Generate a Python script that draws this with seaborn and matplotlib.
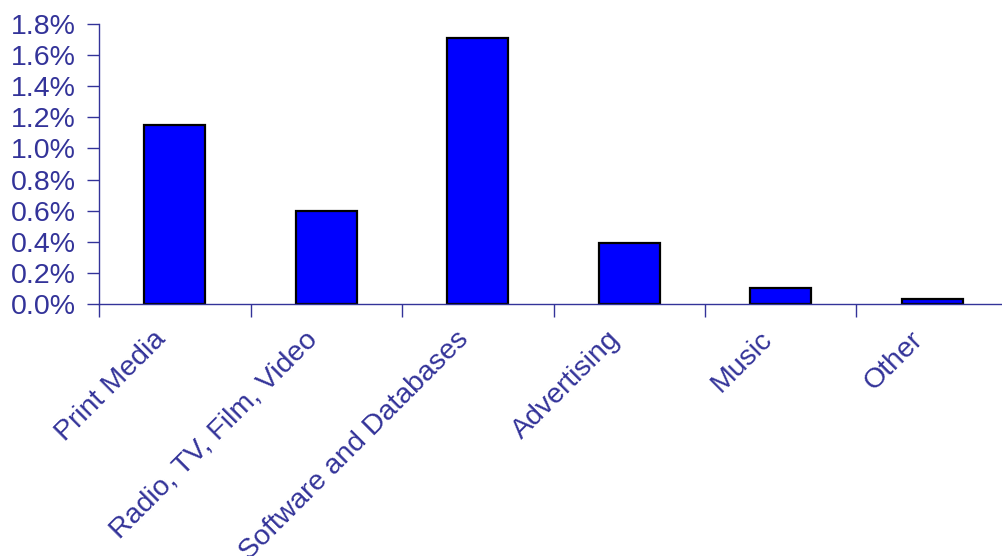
import matplotlib
matplotlib.use("Agg")
import matplotlib.pyplot as plt
import matplotlib.transforms as mtransforms
import seaborn as sns
import pandas as pd
from matplotlib.ticker import FuncFormatter, FixedLocator

categories = ["Print Media", "Radio, TV, Film, Video", "Software and Databases",
              "Advertising", "Music", "Other"]
shares = [1.15, 0.60, 1.71, 0.39, 0.105, 0.035]   # percent
y_ticks = [0.0, 0.2, 0.4, 0.6, 0.8, 1.0, 1.2, 1.4, 1.6, 1.8]

navy = "#333399"
sns.set_style("white")
plt.rcParams["font.family"] = ["Liberation Sans", "DejaVu Sans"]

df = pd.DataFrame({"category": categories, "share": shares})

fig = plt.figure(figsize=(10.02, 5.56), dpi=100)
ax = fig.add_axes([99 / 1002, 252 / 556, 909 / 1002, 280 / 556])

sns.barplot(data=df, x="category", y="share", color="#0000FF", saturation=1,
            width=0.4, edgecolor="black", linewidth=1.6, ax=ax)

ax.set_xlim(-0.5, len(categories) - 0.5)
ax.set_ylim(0, 1.8)
ax.set_yticks(y_ticks)
ax.yaxis.set_major_formatter(FuncFormatter(lambda v, _: f"{v:.1f}%"))

# ticks at category boundaries, labels at category centres
ax.xaxis.set_major_locator(FixedLocator([i - 0.5 for i in range(len(categories) + 1)]))
ax.xaxis.set_minor_locator(FixedLocator(list(range(len(categories)))))
ax.set_xticklabels([], minor=False)
ax.set_xticklabels(categories, minor=True, rotation=45, ha="right",
                   rotation_mode="anchor", va="top")
ax.tick_params(axis="x", which="major", direction="out", length=9, width=1,
               color=navy, bottom=True)
ax.tick_params(axis="x", which="minor", length=0, pad=16, labelsize=20.5,
               labelcolor=navy)
ax.tick_params(axis="y", direction="out", length=9, width=1, color=navy,
               left=True, labelsize=20.5, labelcolor=navy, pad=8)

# nudge the slanted category labels to the left of their bars
shift = mtransforms.ScaledTranslation(-22 / 100, 0, fig.dpi_scale_trans)
for lbl in ax.get_xticklabels(minor=True):
    lbl.set_transform(lbl.get_transform() + shift)

ax.set_xlabel("")
ax.set_ylabel("")
for side in ("top", "right"):
    ax.spines[side].set_visible(False)
for side in ("left", "bottom"):
    ax.spines[side].set_color(navy)
    ax.spines[side].set_linewidth(1)

fig.savefig("out.png", dpi=100)
